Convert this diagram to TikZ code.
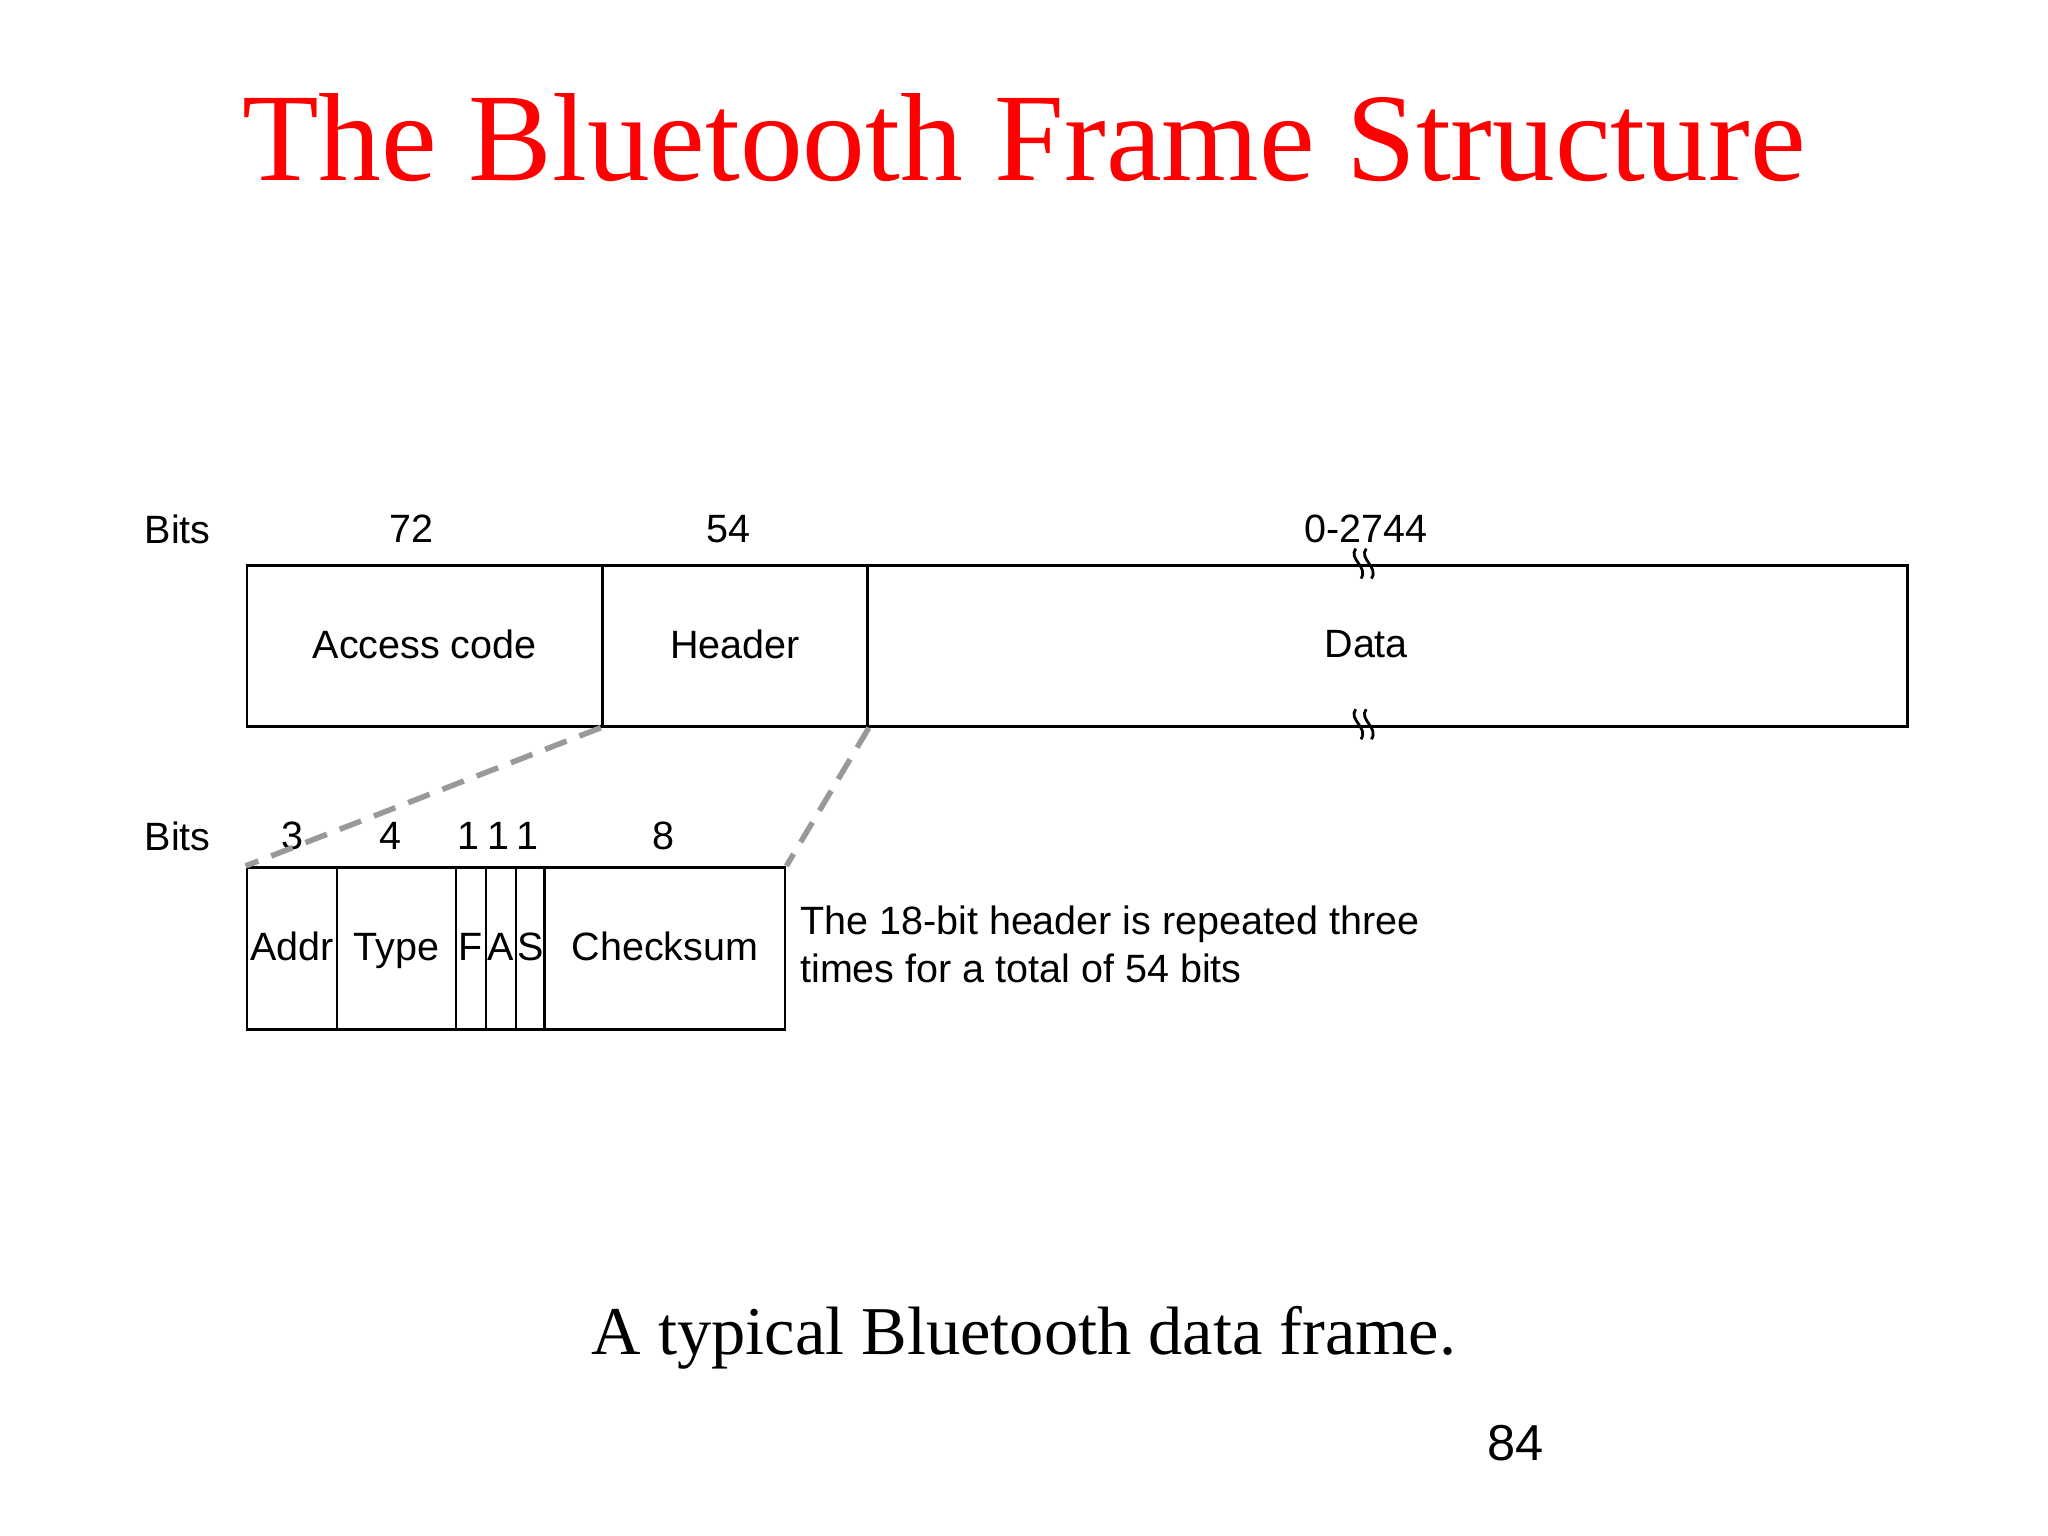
\documentclass[tikz,border=0pt]{standalone}
\usetikzlibrary{calc}
\usepackage{fontspec}
\setmainfont{Liberation Serif}
\newfontfamily\helv{Liberation Sans}
\begin{document}
\begin{tikzpicture}[x=0.01cm,y=-0.01cm,
  lbl/.style={font=\helv\fontsize{8.6}{10}\selectfont,inner sep=0pt},
  cell/.style={draw,line width=0.6pt,inner sep=0pt,text height=1.6ex,text depth=0.45ex,font=\helv\fontsize{8.6}{10}\selectfont},
  zoomline/.style={draw=gray!80,line width=1.2pt,dash pattern=on 5pt off 3pt},
  brk/.style={line width=0.6pt}]
\useasboundingbox[fill=white] (0,0) rectangle (1568,1176);
\node[text=red,font=\fontsize{27.3}{31}\selectfont] (title) at (784,105) {The Bluetooth Frame Structure};
% top row
\node[cell,minimum width=2.72cm,minimum height=1.23cm,anchor=north west] (acc) at (188,432) {Access code};
\node[cell,minimum width=2.03cm,minimum height=1.23cm,anchor=north west] (hdr) at (460,432) {Header};
\node[cell,minimum width=7.96cm,minimum height=1.23cm,anchor=north west] (data) at (663,432) {};
\node[lbl] (datat) at (1046,493) {Data};
\node[lbl] (bits1) at (136,405) {Bits};
\node[lbl] (n72) at (315,405) {72};
\node[lbl] (n54) at (558,405) {54};
\node[lbl] (nd) at (1046,405) {0-2744};
% break marks
\foreach \y/\nm in {432/bt,555/bb}{
  \coordinate (\nm) at (1046,\y);
  \draw[brk] ($(\nm)+(-8,-12)$) .. controls ($(\nm)+(-14,-4)$) and ($(\nm)+(2,2)$) .. ($(\nm)+(-4,11)$);
  \draw[brk] ($(\nm)+(0,-12)$) .. controls ($(\nm)+(-6,-4)$) and ($(\nm)+(10,2)$) .. ($(\nm)+(4,11)$);
}
% bottom row
\foreach \a/\b/\nm/\t in {188/257/addr/Addr,257/348/type/Type,348/371/f/F,371/394/a/A,394/416/s/S,416/600/chk/Checksum}{
  \pgfmathsetmacro\w{(\b-\a)*0.01}
  \node[cell,minimum width=\w cm,minimum height=1.24cm,anchor=north west] (\nm) at (\a,663) {\t};
}
\node[lbl] (bits2) at (136,640) {Bits};
\foreach \x/\t/\nm in {224/3/b3,299/4/b4,359/1/b5,382/1/b6,404/1/b7,508/8/b8}
  \node[lbl] (\nm) at (\x,640) {\t};
\node[lbl,anchor=west,align=left,font=\helv\fontsize{8.6}{10.5}\selectfont] (note) at (612,723) {The 18-bit header is repeated three\\times for a total of 54 bits};
\draw[zoomline] (hdr.south west) -- (addr.north west);
\draw[zoomline] (hdr.south east) -- (chk.north east);
\node[font=\fontsize{14.9}{17}\selectfont] (cap) at (784,1024) {A typical Bluetooth data frame.};
\node[font=\helv\fontsize{11}{13}\selectfont] (pg) at (1160,1105) {84};
\end{tikzpicture}
\end{document}
